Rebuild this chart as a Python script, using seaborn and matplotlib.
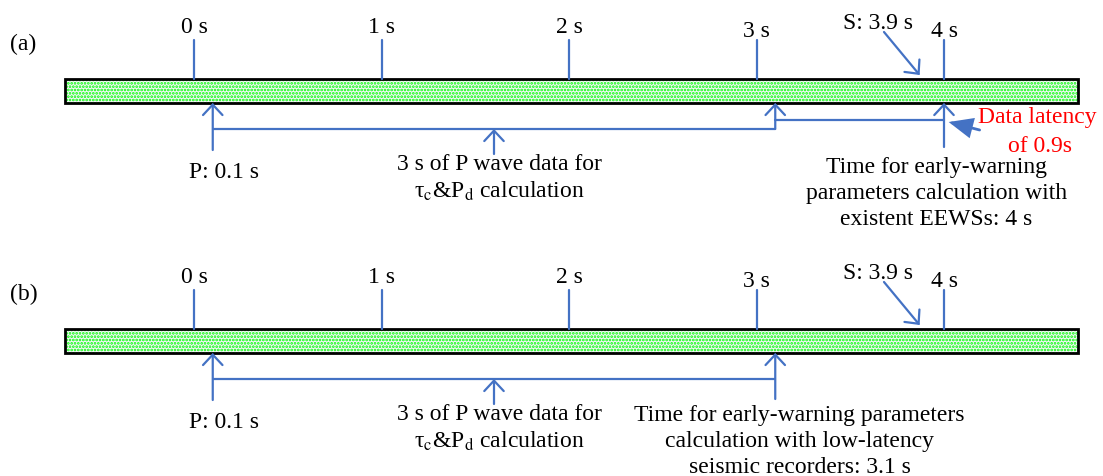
import matplotlib
matplotlib.use('Agg')
from matplotlib import pyplot as plt
from matplotlib.patches import Rectangle
import seaborn as sns

# timeline values (seconds)
tick_times = [0, 1, 2, 3, 4]
tick_labels = ['0 s', '1 s', '2 s', '3 s', '4 s']
p_arrival = 0.1
s_arrival = 3.9
p_window = 3.0      # P wave data used for tau_c & P_d
latency = 0.9       # data latency of existent EEWSs
calc_end_low = p_arrival + p_window              # 3.1 s
calc_end_exist = p_arrival + p_window + latency  # 4 s

panel_names = ['(a)', '(b)']
end_text = [['Time for early-warning', 'parameters calculation with', 'existent EEWSs: 4 s'],
            ['Time for early-warning parameters', 'calculation with low-latency', 'seismic recorders: 3.1 s']]

sns.set_style('white')
plt.rcParams['font.family'] = ['Liberation Serif', 'DejaVu Serif']
plt.rcParams['text.color'] = 'black'
plt.rcParams['mathtext.fontset'] = 'stix'
plt.rcParams['hatch.linewidth'] = 1.3

blue = '#4472C4'
fs = 17

fig = plt.figure(figsize=(11.03, 4.77), dpi=100, facecolor='white')
ax = fig.add_axes([0, 0, 1, 1])
ax.set_xlim(-194 / 187.5, (1103 - 194) / 187.5)
ax.set_ylim(477, 0)
ax.axis('off')


def arrow(x0, y0, x1, y1, filled=False):
    if filled:
        style = '-|>,head_length=1.4,head_width=0.6'
        lw = 2.0
    else:
        style = '->,head_length=0.75,head_width=0.7'
        lw = 1.6
    ax.annotate('', xy=(x1, y1), xytext=(x0, y0),
                arrowprops=dict(arrowstyle=style, color=blue, lw=lw, shrinkA=0, shrinkB=0,
                                mutation_scale=10, joinstyle='miter'))


def panel(i, dy):
    end = calc_end_exist if i == 0 else calc_end_low
    ax.text(-194 / 187.5 + 0.053, 50 + dy, panel_names[i], fontsize=fs, ha='left', va='baseline')

    # record bar
    ax.add_patch(Rectangle((-0.688, 80 + dy), 5.403, 24, facecolor='#f4f4f8',
                           edgecolor='#00ff00', hatch='.....', lw=0, zorder=1))
    ax.add_patch(Rectangle((-0.688, 80 + dy), 5.403, 24, facecolor='none',
                           edgecolor='black', lw=2, zorder=2))

    # time ticks
    for t, lab in zip(tick_times, tick_labels):
        ax.plot([t, t], [41 + dy, 80 + dy], color=blue, lw=1.6, zorder=3)
        ax.text(t, (33 if t < 3 else 37) + dy, lab, fontsize=fs, ha='center', va='baseline')

    # S arrival
    ax.text(s_arrival - 0.25, 29 + dy, 'S: 3.9 s', fontsize=fs, ha='center', va='baseline')
    arrow(s_arrival - 0.22, 33 + dy, s_arrival - 0.03, 76 + dy)

    # P arrival and 3 s window
    arrow(p_arrival, 151 + dy, p_arrival, 104 + dy)
    ax.text(p_arrival + 0.06, 178 + dy, 'P: 0.1 s', fontsize=fs, ha='center', va='baseline')
    ax.plot([p_arrival, calc_end_low], [130 + dy, 130 + dy], color=blue, lw=1.6)
    mid = (p_arrival + calc_end_low) / 2
    arrow(mid, 155 + dy, mid, 130 + dy)
    ax.text(mid + 0.03, 170 + dy, '3 s of P wave data for', fontsize=fs, ha='center', va='baseline')
    ax.text(mid + 0.03, 198 + dy, 'τ$_\\mathrm{c}$&P$_\\mathrm{d}$ calculation', fontsize=fs,
            ha='center', va='baseline')

    if i == 0:
        arrow(calc_end_low, 130 + dy, calc_end_low, 104 + dy)
        ax.plot([calc_end_low, calc_end_exist], [121 + dy, 121 + dy], color=blue, lw=1.6)
        arrow(calc_end_exist, 148 + dy, calc_end_exist, 104 + dy)
        arrow(calc_end_exist + 0.19, 131 + dy, calc_end_exist + 0.025, 123 + dy, filled=True)
        ax.text(calc_end_exist + 0.5, 123 + dy, 'Data latency', fontsize=fs, color='red',
                ha='center', va='baseline')
        ax.text(calc_end_exist + 0.51, 152 + dy, 'of 0.9s', fontsize=fs, color='red',
                ha='center', va='baseline')
        xc = end - 0.04
        bases = [173, 199, 225]
    else:
        arrow(calc_end_low, 150 + dy, calc_end_low, 104 + dy)
        xc = end + 0.13
        bases = [171, 197, 223]
    for line, b in zip(end_text[i], bases):
        ax.text(xc, b + dy, line, fontsize=fs, ha='center', va='baseline')


panel(0, 0)
panel(1, 250)

plt.savefig('out.png', dpi=100, facecolor='white')
